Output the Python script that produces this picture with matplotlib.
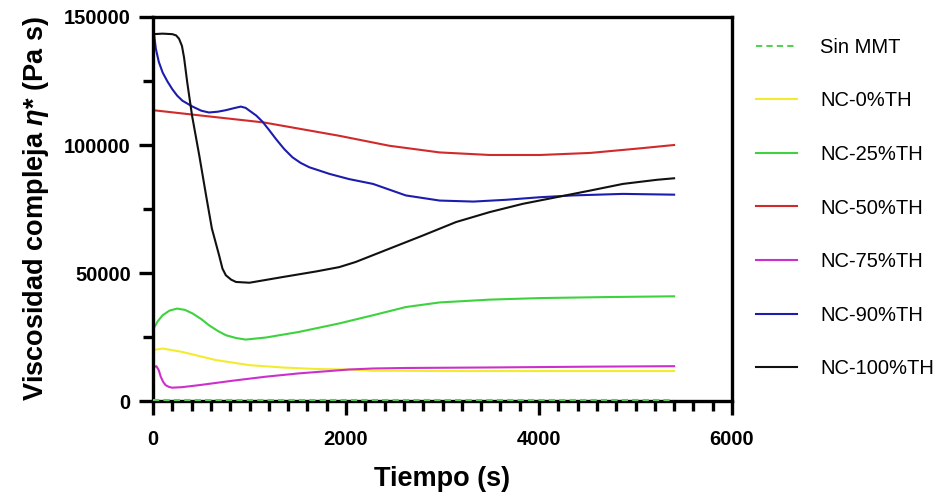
import numpy as np
import matplotlib
matplotlib.use('Agg')
import matplotlib.pyplot as plt
from matplotlib.ticker import MultipleLocator

plt.rcParams['font.family'] = ['Liberation Sans', 'DejaVu Sans']
plt.rcParams['mathtext.fontset'] = 'custom'
plt.rcParams['mathtext.rm'] = 'Liberation Sans:bold'
plt.rcParams['mathtext.it'] = 'Liberation Sans:italic:bold'

# tiempo (s) y viscosidad compleja (Pa s) de cada muestra
t_sin = [0, 1000, 2000, 3000, 4000, 5400]
eta_sin = [400, 400, 400, 400, 400, 400]

t_0 = [0, 100, 300, 650, 1000, 1340, 1690, 2030, 2280, 2620, 2970, 3490, 4010, 4700, 5400]
eta_0 = [19900, 20500, 19200, 16000, 14000, 13100, 12500, 12300, 11800, 11800, 11700, 11700, 11700, 11700, 11700]

t_25 = [0, 50, 100, 170, 250, 330, 410, 500, 580, 670, 755, 860, 960, 1170, 1515, 1930,
        2280, 2620, 2970, 3490, 4010, 4700, 5400]
eta_25 = [27900, 31200, 33500, 35300, 36100, 35600, 34200, 32000, 29600, 27400, 25700, 24600,
          24000, 24800, 27000, 30300, 33500, 36700, 38500, 39600, 40200, 40600, 40900]

t_50 = [0, 500, 1150, 1930, 2450, 2970, 3490, 4010, 4530, 5050, 5400]
eta_50 = [113600, 111500, 108800, 103600, 99700, 97100, 96100, 96100, 96900, 98700, 100000]

t_75 = [0, 35, 60, 80, 105, 130, 165, 200, 300, 480, 820, 1170, 1515, 1860, 2030, 2280, 2620, 3490, 4500, 5400]
eta_75 = [13100, 13600, 12000, 9500, 7500, 6200, 5500, 5200, 5400, 6200, 7900, 9500, 10800, 11800,
          12300, 12700, 12900, 13100, 13400, 13600]

t_90 = [0, 15, 30, 60, 100, 150, 200, 250, 305, 410, 500, 580, 670, 755, 840, 910, 960, 1000,
        1070, 1135, 1200, 1275, 1360, 1445, 1530, 1620, 1830, 2030,
        2280, 2620, 2970, 3320, 3660, 4010, 4350, 4870, 5400]
eta_90 = [147800, 142000, 137500, 132500, 128300, 124800, 121800, 119300, 117300, 115000, 113400, 112700,
          113000, 113600, 114400, 115000, 114500, 113400, 111500, 109100, 106000, 102300, 98400,
          95200, 93000, 91300, 88700, 86700, 84800, 80300, 78300, 77900, 78600, 79600, 80300, 80900, 80600]

t_100 = [0, 100, 200, 240, 270, 300, 322, 355, 405, 480, 550, 610, 685, 720, 755, 810, 860, 1000,
         1340, 1690, 1930, 2100, 2450, 2800, 3140, 3490, 3830, 4180, 4530, 4870, 5220, 5400]
eta_100 = [143300, 143500, 143300, 142800, 141500, 138700, 134100, 124400, 111400, 95800, 80300, 67400,
           56900, 51700, 49100, 47400, 46500, 46200, 48400, 50600, 52300, 54300, 59500, 64700, 69900,
           73800, 77000, 79600, 82200, 84800, 86400, 87000]

series = [
    ('Sin MMT', t_sin, eta_sin, '#55d055', '--'),
    ('NC-0%TH', t_0, eta_0, '#f2ec30', '-'),
    ('NC-25%TH', t_25, eta_25, '#3ed23e', '-'),
    ('NC-50%TH', t_50, eta_50, '#d02a2a', '-'),
    ('NC-75%TH', t_75, eta_75, '#cc30cc', '-'),
    ('NC-90%TH', t_90, eta_90, '#1c1cad', '-'),
    ('NC-100%TH', t_100, eta_100, '#111111', '-'),
]

fig = plt.figure(figsize=(9.4, 4.94), dpi=100)
ax = fig.add_axes([153 / 940, 1 - 401 / 494, 579 / 940, 384 / 494])

for name, t, eta, color, ls in series:
    if ls == '--':
        ax.plot(t, eta, ls, color=color, lw=1.5, dashes=(3, 2), label=name, zorder=5, clip_on=False)
    else:
        ax.plot(t, eta, ls, color=color, lw=1.5, label=name)

ax.set_xlim(0, 6000)
ax.set_ylim(0, 150000)
ax.xaxis.set_major_locator(MultipleLocator(2000))
ax.xaxis.set_minor_locator(MultipleLocator(200))
ax.yaxis.set_major_locator(MultipleLocator(50000))
ax.yaxis.set_minor_locator(MultipleLocator(25000))

for s in ax.spines.values():
    s.set_linewidth(2.4)
ax.tick_params(which='major', direction='out', length=10, width=2.4, labelsize=14.5, pad=6)
ax.tick_params(which='minor', direction='out', length=7, width=2.4)
ax.tick_params(axis='x', which='major', pad=11)
for lab in ax.get_xticklabels() + ax.get_yticklabels():
    lab.set_fontweight('bold')

ax.set_xlabel('Tiempo (s)', fontsize=19.5, fontweight='bold', labelpad=12)
ax.set_ylabel(r'Viscosidad compleja $\eta$* (Pa s)', fontsize=19.5, fontweight='bold', labelpad=9)

fig.legend(loc='center left', bbox_to_anchor=(756 / 940, 1 - 208 / 494), frameon=False,
           fontsize=14.5, handlelength=2.05, handletextpad=1.15, labelspacing=1.72,
           borderpad=0, borderaxespad=0)

fig.savefig('out.png', dpi=100)
